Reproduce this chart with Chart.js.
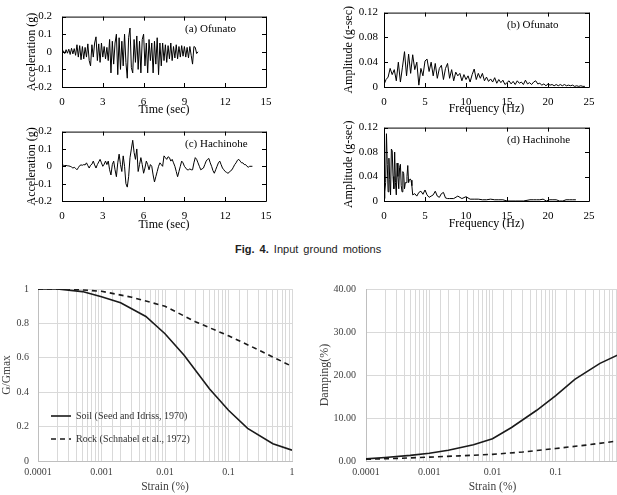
<!DOCTYPE html>
<html>
<head>
<meta charset="utf-8">
<script src="https://cdn.jsdelivr.net/npm/chart.js@4.4.0/dist/chart.umd.min.js"></script>
<style>
  body { margin: 0; background: #fff; }
  #page { position: relative; width: 617px; height: 495px; overflow: hidden; background: #fff; }
  canvas { position: absolute; }
  #caption { position: absolute; left: 235px; top: 243px; font: 11px 'Liberation Sans', Arial, sans-serif; color: #222; word-spacing: 2px; white-space: nowrap; }
</style>
</head>
<body>
<div id="page">
  <canvas id="ofunatoAccChart" width="300" height="120" style="left:0;top:0"></canvas>
  <canvas id="ofunatoFftChart" width="317" height="120" style="left:300px;top:0"></canvas>
  <canvas id="hachAccChart" width="300" height="120" style="left:0;top:115px"></canvas>
  <canvas id="hachFftChart" width="317" height="120" style="left:300px;top:115px"></canvas>
  <div id="caption"><b>Fig. 4.</b> Input ground motions</div>
  <canvas id="modulusChart" width="305" height="225" style="left:0;top:270px"></canvas>
  <canvas id="dampingChart" width="320" height="225" style="left:310px;top:270px"></canvas>
</div>
<script>
// acceleration time histories, sampled every 0.1 s
const accDt = 0.1
const ofunatoAcc = [
  0.000, 0.005, -0.010, 0.012, -0.008, 0.015, -0.015, 0.020, -0.012, 0.018,
  -0.020, 0.040, -0.030, 0.035, -0.045, 0.030, -0.040, 0.025, -0.030, 0.045,
  -0.050, -0.080, 0.040, -0.030, 0.050, 0.085, -0.050, 0.045, -0.060, 0.050,
  -0.030, 0.030, -0.040, 0.025, -0.050, 0.070, -0.120, 0.060, -0.070, 0.050,
  0.100, -0.130, 0.080, -0.100, 0.060, -0.080, 0.100, -0.060, -0.150, 0.080,
  0.135, -0.090, -0.120, 0.070, -0.060, 0.090, -0.100, 0.060, -0.120, 0.070,
  0.100, -0.080, 0.050, -0.120, 0.070, -0.050, 0.050, -0.120, 0.060, -0.070,
  0.080, -0.130, 0.050, -0.080, 0.050, -0.050, 0.040, -0.060, 0.035, -0.040,
  0.050, -0.050, 0.030, -0.035, 0.040, -0.040, 0.030, -0.030, 0.035, -0.025,
  0.030, -0.030, 0.025, -0.035, 0.030, -0.020, -0.070, 0.030, 0.025, -0.010,
  0.000
]
const hachAcc = [
  0.005, 0.006, 0.004, 0.005, 0.003, 0.002, 0.000, -0.004, -0.010, -0.006,
  -0.012, -0.020, -0.008, 0.004, 0.008, 0.006, 0.010, 0.008, 0.020, 0.004,
  -0.010, 0.006, 0.012, 0.030, 0.008, -0.010, 0.010, 0.025, 0.040, 0.020,
  0.000, 0.012, 0.030, 0.010, 0.030, -0.020, -0.050, 0.010, 0.030, -0.020,
  -0.060, 0.020, 0.070, 0.010, -0.030, 0.060, 0.000, -0.100, -0.120, -0.060,
  0.050, 0.100, 0.150, 0.080, 0.040, 0.100, -0.030, 0.010, 0.050, 0.010,
  -0.040, -0.010, 0.030, 0.010, -0.020, 0.010, 0.000, -0.050, -0.090, -0.060,
  -0.030, 0.000, 0.020, 0.010, 0.000, 0.060, 0.050, 0.040, 0.055, 0.050,
  0.030, 0.040, 0.020, 0.000, -0.030, -0.060, -0.030, 0.000, 0.030, 0.020,
  0.000, -0.010, -0.020, -0.020, -0.015, -0.020, -0.020, 0.020, 0.050, 0.040,
  0.020, 0.000, -0.020, -0.015, -0.010, 0.010, 0.030, 0.040, 0.045, 0.020,
  0.000, -0.025, -0.040, -0.020, 0.000, 0.020, 0.030, 0.010, -0.010, -0.020,
  -0.030, -0.035, -0.040, -0.035, -0.025, -0.020, -0.005, 0.010, 0.020, 0.035,
  0.040, 0.030, 0.020, 0.020, 0.010, 0.010, 0.000, -0.005, 0.000, 0.000,
  0.000
]

// Fourier amplitude spectra
const ofunatoDf = 0.25
const ofunatoAmp = [
  0.004, 0.012, 0.016, 0.030, 0.020, 0.028, 0.010, 0.040, 0.008, 0.032,
  0.057, 0.018, 0.053, 0.022, 0.052, 0.028, 0.040, 0.003, 0.030, 0.018,
  0.042, 0.045, 0.025, 0.040, 0.018, 0.038, 0.014, 0.030, 0.035, 0.012,
  0.030, 0.038, 0.014, 0.028, 0.010, 0.024, 0.018, 0.022, 0.010, 0.020,
  0.012, 0.018, 0.008, 0.020, 0.029, 0.012, 0.022, 0.014, 0.022, 0.010,
  0.016, 0.009, 0.013, 0.008, 0.015, 0.006, 0.012, 0.007, 0.011, 0.004,
  0.007, 0.010, 0.005, 0.009, 0.004, 0.010, 0.006, 0.008, 0.004, 0.011,
  0.005, 0.007, 0.004, 0.008, 0.010, 0.005, 0.006, 0.003, 0.005, 0.002,
  0.005, 0.003, 0.004, 0.002, 0.004, 0.002, 0.004, 0.002, 0.004, 0.002,
  0.003, 0.002, 0.003, 0.001, 0.002, 0.001, 0.002, 0.001, 0.001
]
const hachFreq = [
  0, 0.1, 0.2, 0.3, 0.4, 0.5, 0.6, 0.7, 0.8, 0.9, 1.0, 1.1, 1.2, 1.3, 1.4, 1.5, 1.6, 1.7, 1.8, 1.9,
  2.0, 2.1, 2.2, 2.3, 2.4, 2.5, 2.6, 2.7, 2.8, 2.9, 3.0, 3.1, 3.2, 3.3, 3.4, 3.5, 3.75, 4.0, 4.25, 4.5,
  4.75, 5.0, 5.25, 5.5, 5.75, 6.0, 6.25, 6.5, 6.75, 7.0, 7.25, 7.5, 7.75, 8.0, 8.5, 9.0, 9.5, 10.0, 10.5, 11.0,
  11.5, 12.0, 12.5, 13.0, 13.5, 14.0, 14.5, 15.0, 16.0, 17.0, 17.8, 18.2, 18.6, 19.0, 19.4, 19.8, 20.2, 20.6, 21.0, 21.4,
  21.8, 22.2, 22.6, 23.0, 23.4
]
const hachAmp = [
  0.004, 0.015, 0.030, 0.110, 0.060, 0.015, 0.070, 0.035, 0.010, 0.085, 0.082, 0.040, 0.020, 0.080, 0.030, 0.010, 0.062, 0.040, 0.020, 0.055,
  0.060, 0.025, 0.015, 0.048, 0.045, 0.020, 0.030, 0.030, 0.040, 0.058, 0.030, 0.035, 0.036, 0.034, 0.025, 0.010, 0.012, 0.008, 0.014, 0.016,
  0.011, 0.018, 0.010, 0.006, 0.008, 0.010, 0.016, 0.008, 0.006, 0.012, 0.014, 0.005, 0.004, 0.004, 0.004, 0.008, 0.004, 0.007, 0.003, 0.003,
  0.003, 0.002, 0.002, 0.003, 0.002, 0.002, 0.002, 0.000, 0.000, 0.000, 0.002, 0.002, 0.002, 0.002, 0.003, 0.000, 0.002, 0.002, 0.002, 0.000,
  0.000, 0.002, 0.002, 0.002, 0.002
]

// modulus reduction and damping curves
const strainTickLabels = ['0.0001', '0.001', '0.01', '0.1', '1']
const soilStrain = [0.0001, 0.0002, 0.0005, 0.001, 0.002, 0.005, 0.01, 0.02, 0.05, 0.1, 0.2, 0.5, 1]
const soilG = [1.0, 1.0, 0.985, 0.955, 0.92, 0.84, 0.74, 0.615, 0.42, 0.295, 0.19, 0.10, 0.063]
const soilDamping = [0.5, 0.8, 1.3, 1.8, 2.5, 3.8, 5.2, 7.8, 11.8, 15.2, 19.0, 22.7, 24.8]
const rockStrain = [0.0001, 0.0003, 0.001, 0.003, 0.01, 0.03, 0.1, 0.3, 1]
const rockG = [1.0, 1.0, 0.987, 0.952, 0.90, 0.81, 0.728, 0.645, 0.55]
const rockDamping = [0.4, 0.6, 0.9, 1.2, 1.55, 2.1, 2.9, 3.7, 4.7]
const seriesNames = ['Soil (Seed and Idriss, 1970)', 'Rock (Schnabel et al., 1972)']

Chart.defaults.font.family = "'Liberation Serif', 'Times New Roman', serif"
Chart.defaults.animation = false

// box around the plot with inward ticks on all four sides
const frameTicks = {
  id: 'frameTicks',
  afterDatasetsDraw(chart) {
    const {ctx, chartArea: a, scales} = chart
    const len = 4
    ctx.save()
    ctx.strokeStyle = '#000'
    ctx.lineWidth = 1
    ctx.beginPath()
    ctx.rect(a.left + 0.5, a.top + 0.5, a.right - a.left, a.bottom - a.top)
    scales.x.ticks.forEach(t => {
      const px = Math.round(scales.x.getPixelForValue(t.value)) + 0.5
      ctx.moveTo(px, a.bottom); ctx.lineTo(px, a.bottom - len)
      ctx.moveTo(px, a.top); ctx.lineTo(px, a.top + len)
    })
    scales.y.ticks.forEach(t => {
      const py = Math.round(scales.y.getPixelForValue(t.value)) + 0.5
      ctx.moveTo(a.left, py); ctx.lineTo(a.left + len, py)
      ctx.moveTo(a.right, py); ctx.lineTo(a.right - len, py)
    })
    ctx.stroke()
    ctx.restore()
  }
}

// "(a) Ofunato" style label inside the plot
const panelLabel = {
  id: 'panelLabel',
  afterDraw(chart, args, opts) {
    const {ctx, chartArea: a} = chart
    ctx.save()
    ctx.font = "11px 'Liberation Serif'"
    ctx.fillStyle = '#000'
    ctx.textBaseline = 'middle'
    ctx.fillText(opts.text, a.left + 123, a.top + 13)
    ctx.restore()
  }
}

const fmt = v => String(+v.toFixed(2))

function waveChart(id, xs, ys, o) {
  new Chart(document.getElementById(id), {
    type: 'line',
    data: {
      datasets: [{
        data: xs.map((x, i) => ({x, y: ys[i]})),
        borderColor: '#000',
        borderWidth: 1,
        pointRadius: 0,
        tension: 0
      }]
    },
    options: {
      responsive: false,
      layout: {padding: {top: o.top, right: o.right, left: 0, bottom: 0}},
      plugins: {
        legend: {display: false},
        tooltip: {enabled: false},
        panelLabel: {text: o.label}
      },
      scales: {
        x: {
          type: 'linear', min: 0, max: o.xMax,
          ticks: {stepSize: o.xStep, padding: 9, color: '#000', font: {size: 11}, maxRotation: 0, callback: fmt},
          grid: {display: false, drawTicks: false},
          border: {display: false},
          title: {display: true, text: o.xTitle, color: '#000', font: {size: 12}, padding: {top: 0, bottom: o.xTitlePad}},
          afterFit: s => { s.height = o.xH }
        },
        y: {
          min: o.yMin, max: o.yMax,
          ticks: {stepSize: o.yStep, padding: o.yPad, color: '#000', font: {size: 11}, callback: fmt},
          grid: {display: false, drawTicks: false},
          border: {display: false},
          title: {display: true, text: o.yTitle, color: '#000', font: {size: 12}, padding: {top: o.yTitlePad, bottom: 0}},
          afterFit: s => { s.width = o.yW }
        }
      }
    },
    plugins: [frameTicks, panelLabel]
  })
}

const ofunatoTime = ofunatoAcc.map((v, i) => i * accDt)
const hachTime = hachAcc.map((v, i) => i * accDt)
const ofunatoFreq = ofunatoAmp.map((v, i) => i * ofunatoDf)

const accAxes = {xMax: 15, xStep: 3, yMin: -0.2, yMax: 0.2, yStep: 0.1, xTitle: 'Time (sec)', yTitle: 'Acceleration (g)',
  right: 34, yW: 62, yPad: 10, yTitlePad: 24.8, xTitlePad: 2.8}
const fftAxes = {xMax: 25, xStep: 5, yMin: 0, yMax: 0.12, yStep: 0.04, xTitle: 'Frequency (Hz)', yTitle: 'Amplitude (g-sec)',
  right: 28, yW: 84, yPad: 6, yTitlePad: 41.8, xTitlePad: 3.8}

waveChart('ofunatoAccChart', ofunatoTime, ofunatoAcc, {...accAxes, top: 10, xH: 33, label: '(a) Ofunato'})
waveChart('ofunatoFftChart', ofunatoFreq, ofunatoAmp, {...fftAxes, top: 11, xH: 33, label: '(b) Ofunato'})
waveChart('hachAccChart', hachTime, hachAcc, {...accAxes, top: 9, xH: 34, label: '(c) Hachinohe'})
waveChart('hachFftChart', hachFreq, hachAmp, {...fftAxes, top: 10, xH: 34, label: '(d) Hachinohe'})

// legend sits in the lower left corner of the plot
const legendCorner = {
  id: 'legendCorner',
  afterLayout(chart) {
    const a = chart.chartArea
    chart.legend.left = a.left
    chart.legend.top = a.top
    chart.legend.bottom = a.bottom - 4
  }
}

// legend samples as short lines, dashed for the rock curve
const lineLegendLabels = chart =>
  Chart.defaults.plugins.legend.labels.generateLabels(chart).map((item, i) => ({
    ...item,
    pointStyle: 'line',
    lineWidth: 1.6,
    strokeStyle: '#1a1a1a',
    lineDash: chart.data.datasets[i].borderDash || []
  }))

const strainLabel = v => {
  const e = Math.log10(v)
  return Math.abs(e - Math.round(e)) < 1e-6 ? strainTickLabels[Math.round(e) + 4] : ''
}

function curveChart(id, soilY, rockY, o) {
  new Chart(document.getElementById(id), {
    type: 'line',
    data: {
      datasets: [
        {label: seriesNames[0], data: soilStrain.map((x, i) => ({x, y: soilY[i]})),
          borderColor: '#1a1a1a', borderWidth: 1.6, pointRadius: 0, tension: 0},
        {label: seriesNames[1], data: rockStrain.map((x, i) => ({x, y: rockY[i]})),
          borderColor: '#1a1a1a', borderWidth: 1.6, borderDash: [5, 4], pointRadius: 0, tension: 0}
      ]
    },
    options: {
      responsive: false,
      layout: {padding: {top: 19, right: o.right, left: 0, bottom: 0}},
      plugins: {
        tooltip: {enabled: false},
        legend: {
          display: o.legend, position: 'chartArea', align: 'end',
          labels: {usePointStyle: true, pointStyleWidth: 20, padding: 13, color: '#333', font: {size: 10},
            generateLabels: lineLegendLabels}
        }
      },
      scales: {
        x: {
          type: 'logarithmic', min: 0.0001, max: 1,
          ticks: {autoSkip: false, maxRotation: 0, padding: 5, color: '#404040', font: {size: 10}, callback: strainLabel},
          grid: {color: '#d9d9d9', drawTicks: false},
          border: {color: '#bfbfbf'},
          title: {display: true, text: 'Strain (%)', color: '#404040', font: {size: 11.5}, padding: {top: 0, bottom: 1.1}},
          afterFit: s => { s.height = 34 }
        },
        y: {
          min: 0, max: o.yMax,
          ticks: {stepSize: o.yStep, padding: o.yPad, color: '#404040', font: {size: 10}, callback: o.yFmt},
          grid: {color: '#d9d9d9', drawTicks: false},
          border: {color: '#bfbfbf'},
          title: {display: true, text: o.yTitle, color: '#404040', font: {size: o.yTitleSize}, padding: {top: o.yTitlePad, bottom: 0}},
          afterFit: s => { s.width = o.yW }
        }
      }
    },
    plugins: o.legend ? [legendCorner] : []
  })
}

curveChart('modulusChart', soilG, rockG, {right: 13, yMax: 1, yStep: 0.2, yFmt: fmt, yPad: 9, yW: 38,
  yTitle: 'G/Gmax', yTitleSize: 11.5, yTitlePad: 0, legend: true})
curveChart('dampingChart', soilDamping, rockDamping, {right: 11, yMax: 40, yStep: 10, yFmt: v => v.toFixed(2), yPad: 10, yW: 56,
  yTitle: 'Damping(%)', yTitleSize: 12, yTitlePad: 7.8, legend: false})
</script>
</body>
</html>
